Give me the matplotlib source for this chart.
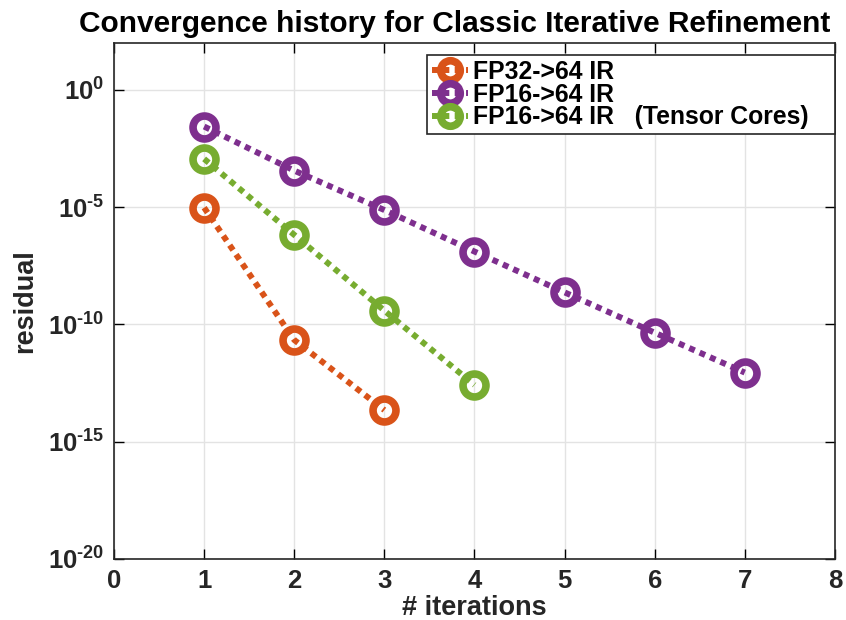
import matplotlib.pyplot as plt
import numpy as np

plt.rcParams['font.family'] = ['Liberation Sans', 'DejaVu Sans']
plt.rcParams['font.weight'] = 'bold'
plt.rcParams['mathtext.fontset'] = 'custom'
plt.rcParams['mathtext.rm'] = 'Liberation Sans:bold'
plt.rcParams['mathtext.bf'] = 'Liberation Sans:bold'
plt.rcParams['axes.unicode_minus'] = False

# log10 of residual
fp32_iters = [1, 2, 3]
fp32_log = [-5.02, -10.66, -13.65]
fp16_iters = [1, 2, 3, 4, 5, 6, 7]
fp16_log = [-1.56, -3.44, -5.12, -6.89, -8.63, -10.35, -12.05]
tc_iters = [1, 2, 3, 4]
tc_log = [-2.94, -6.18, -9.41, -12.58]

labels = ["FP32->64 IR", "FP16->64 IR", "FP16->64 IR   (Tensor Cores)"]
colors = ["#D95319", "#7E2F8E", "#77AC30"]
ytick_exp = [-20, -15, -10, -5, 0]

fig = plt.figure(figsize=(8.46, 6.2), dpi=100)
ax = fig.add_axes([0.1348, 0.0984, 0.852, 0.8322])

series = [(fp32_iters, fp32_log), (fp16_iters, fp16_log), (tc_iters, tc_log)]
for (xs, ys), lab, c in zip(series, labels, colors):
    ax.semilogy(xs, 10.0 ** np.array(ys), linestyle=(0, (1, 0.9)), linewidth=4.3,
                color=c, marker='o', markersize=16.5, markeredgewidth=5.5,
                markerfacecolor='none', markeredgecolor=c, label=lab)

ax.set_xlim(0, 8)
ax.set_ylim(1e-20, 1e2)
ax.set_xticks(range(0, 9))
ax.set_yticks([10.0 ** e for e in ytick_exp])
ax.set_yticklabels([r'$\mathbf{10^{\text{%d}}}$' % e for e in ytick_exp])
ax.minorticks_off()
ax.tick_params(direction='in', length=7, width=1, top=True, right=True,
               labelsize=18.5, pad=7, labelcolor='#262626')
for lbl in ax.get_xticklabels():
    lbl.set_fontweight('bold')
ax.grid(True, color='#e3e3e3', linewidth=1)
ax.set_axisbelow(True)
for s in ax.spines.values():
    s.set_linewidth(1.2)
    s.set_color('#262626')

ax.set_title("Convergence history for Classic Iterative Refinement",
             fontsize=21.5, fontweight='bold', pad=8, x=0.473)
ax.set_xlabel("# iterations", fontsize=19.5, fontweight='bold', labelpad=1.5,
              color='#262626')
ax.set_ylabel("residual", fontsize=19.5, fontweight='bold', labelpad=7,
              color='#262626')

leg = ax.legend(loc='upper left', bbox_to_anchor=(0.434, 0.5, 0.566, 0.477),
                mode='expand', fontsize=17.8, handlelength=1.45,
                handletextpad=0.2, borderpad=0.2, borderaxespad=0.0,
                labelspacing=-0.05, fancybox=False, framealpha=1,
                edgecolor='#262626', markerscale=0.85)
leg.get_frame().set_linewidth(1.2)

fig.savefig("out.png", dpi=100)
